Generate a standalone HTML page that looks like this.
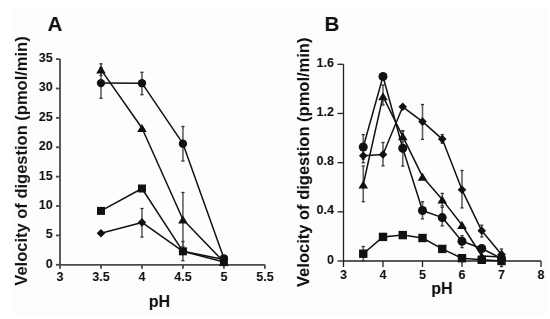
<!DOCTYPE html>
<html><head><meta charset="utf-8"><style>
html,body{margin:0;padding:0;background:#fff;width:550px;height:319px;overflow:hidden;}
body{position:relative;font-family:"Liberation Sans",sans-serif;}
</style></head><body>
<svg width="550" height="319" viewBox="0 0 550 319" style="position:absolute;left:0;top:0;filter:grayscale(1)" font-family="Liberation Sans, sans-serif" font-weight="bold" fill="#111">
<rect x="13" y="8" width="534" height="307" fill="#fdfdfc"/>
<text x="47.6" y="30.9" font-size="20.5">A</text>
<text x="324.5" y="30.9" font-size="20.5">B</text>
<text transform="translate(26.9,161.0) rotate(-90)" text-anchor="middle" font-size="16.5">Velocity of digestion (pmol/min)</text>
<text transform="translate(308.6,162.3) rotate(-90)" text-anchor="middle" font-size="16.5">Velocity of digestion (pmol/min)</text>
<text x="159.5" y="307" text-anchor="middle" font-size="16">pH</text>
<text x="442" y="294" text-anchor="middle" font-size="16">pH</text>
<line x1="60" y1="59.11" x2="60" y2="264.8" stroke="#4a4a4a" stroke-width="1.8"/>
<line x1="60" y1="264.8" x2="264.9" y2="264.8" stroke="#4a4a4a" stroke-width="1.8"/>
<line x1="56" y1="264.8" x2="60" y2="264.8" stroke="#4a4a4a" stroke-width="1.8"/>
<line x1="56" y1="235.42" x2="60" y2="235.42" stroke="#4a4a4a" stroke-width="1.8"/>
<line x1="56" y1="206.03" x2="60" y2="206.03" stroke="#4a4a4a" stroke-width="1.8"/>
<line x1="56" y1="176.65" x2="60" y2="176.65" stroke="#4a4a4a" stroke-width="1.8"/>
<line x1="56" y1="147.26" x2="60" y2="147.26" stroke="#4a4a4a" stroke-width="1.8"/>
<line x1="56" y1="117.88" x2="60" y2="117.88" stroke="#4a4a4a" stroke-width="1.8"/>
<line x1="56" y1="88.49" x2="60" y2="88.49" stroke="#4a4a4a" stroke-width="1.8"/>
<line x1="56" y1="59.11" x2="60" y2="59.11" stroke="#4a4a4a" stroke-width="1.8"/>
<line x1="60" y1="264.8" x2="60" y2="268.8" stroke="#4a4a4a" stroke-width="1.8"/>
<line x1="100.98" y1="264.8" x2="100.98" y2="268.8" stroke="#4a4a4a" stroke-width="1.8"/>
<line x1="141.96" y1="264.8" x2="141.96" y2="268.8" stroke="#4a4a4a" stroke-width="1.8"/>
<line x1="182.94" y1="264.8" x2="182.94" y2="268.8" stroke="#4a4a4a" stroke-width="1.8"/>
<line x1="223.92" y1="264.8" x2="223.92" y2="268.8" stroke="#4a4a4a" stroke-width="1.8"/>
<line x1="264.9" y1="264.8" x2="264.9" y2="268.8" stroke="#4a4a4a" stroke-width="1.8"/>
<text x="52.6" y="267.8" text-anchor="end" font-size="12.5">0</text>
<text x="52.6" y="238.42" text-anchor="end" font-size="12.5">5</text>
<text x="52.6" y="209.03" text-anchor="end" font-size="12.5">10</text>
<text x="52.6" y="179.65" text-anchor="end" font-size="12.5">15</text>
<text x="52.6" y="150.26" text-anchor="end" font-size="12.5">20</text>
<text x="52.6" y="120.88" text-anchor="end" font-size="12.5">25</text>
<text x="52.6" y="91.49" text-anchor="end" font-size="12.5">30</text>
<text x="52.6" y="62.11" text-anchor="end" font-size="12.5">35</text>
<text x="60" y="280.6" text-anchor="middle" font-size="12.5">3</text>
<text x="100.98" y="280.6" text-anchor="middle" font-size="12.5">3.5</text>
<text x="141.96" y="280.6" text-anchor="middle" font-size="12.5">4</text>
<text x="182.94" y="280.6" text-anchor="middle" font-size="12.5">4.5</text>
<text x="223.92" y="280.6" text-anchor="middle" font-size="12.5">5</text>
<text x="264.9" y="280.6" text-anchor="middle" font-size="12.5">5.5</text>
<line x1="343.5" y1="64.3" x2="343.5" y2="261" stroke="#222" stroke-width="1.3"/>
<line x1="343.5" y1="261" x2="541" y2="261" stroke="#222" stroke-width="1.3"/>
<line x1="337.5" y1="261" x2="343.5" y2="261" stroke="#222" stroke-width="1.3"/>
<line x1="337.5" y1="211.82" x2="343.5" y2="211.82" stroke="#222" stroke-width="1.3"/>
<line x1="337.5" y1="162.65" x2="343.5" y2="162.65" stroke="#222" stroke-width="1.3"/>
<line x1="337.5" y1="113.47" x2="343.5" y2="113.47" stroke="#222" stroke-width="1.3"/>
<line x1="337.5" y1="64.3" x2="343.5" y2="64.3" stroke="#222" stroke-width="1.3"/>
<line x1="343.5" y1="261" x2="343.5" y2="267" stroke="#222" stroke-width="1.3"/>
<line x1="383" y1="261" x2="383" y2="267" stroke="#222" stroke-width="1.3"/>
<line x1="422.5" y1="261" x2="422.5" y2="267" stroke="#222" stroke-width="1.3"/>
<line x1="462" y1="261" x2="462" y2="267" stroke="#222" stroke-width="1.3"/>
<line x1="501.5" y1="261" x2="501.5" y2="267" stroke="#222" stroke-width="1.3"/>
<line x1="541" y1="261" x2="541" y2="267" stroke="#222" stroke-width="1.3"/>
<text x="334" y="263.5" text-anchor="end" font-size="12.5">0</text>
<text x="334" y="214.32" text-anchor="end" font-size="12.5">0.4</text>
<text x="334" y="165.15" text-anchor="end" font-size="12.5">0.8</text>
<text x="334" y="115.97" text-anchor="end" font-size="12.5">1.2</text>
<text x="334" y="66.8" text-anchor="end" font-size="12.5">1.6</text>
<text x="343.5" y="278.8" text-anchor="middle" font-size="12.5">3</text>
<text x="383" y="278.8" text-anchor="middle" font-size="12.5">4</text>
<text x="422.5" y="278.8" text-anchor="middle" font-size="12.5">5</text>
<text x="462" y="278.8" text-anchor="middle" font-size="12.5">6</text>
<text x="501.5" y="278.8" text-anchor="middle" font-size="12.5">7</text>
<text x="541" y="278.8" text-anchor="middle" font-size="12.5">8</text>
<line x1="100.98" y1="67.9" x2="100.98" y2="98.3" stroke="#606060" stroke-width="1.6"/>
<line x1="99.38" y1="67.9" x2="102.58" y2="67.9" stroke="#333" stroke-width="1.3"/>
<line x1="99.38" y1="98.3" x2="102.58" y2="98.3" stroke="#333" stroke-width="1.3"/>
<line x1="100.98" y1="63.8" x2="100.98" y2="75.4" stroke="#606060" stroke-width="1.6"/>
<line x1="99.38" y1="63.8" x2="102.58" y2="63.8" stroke="#333" stroke-width="1.3"/>
<line x1="99.38" y1="75.4" x2="102.58" y2="75.4" stroke="#333" stroke-width="1.3"/>
<line x1="141.96" y1="72.3" x2="141.96" y2="94.7" stroke="#606060" stroke-width="1.6"/>
<line x1="140.36" y1="72.3" x2="143.56" y2="72.3" stroke="#333" stroke-width="1.3"/>
<line x1="140.36" y1="94.7" x2="143.56" y2="94.7" stroke="#333" stroke-width="1.3"/>
<line x1="182.94" y1="126.5" x2="182.94" y2="161" stroke="#606060" stroke-width="1.6"/>
<line x1="181.34" y1="126.5" x2="184.54" y2="126.5" stroke="#333" stroke-width="1.3"/>
<line x1="181.34" y1="161" x2="184.54" y2="161" stroke="#333" stroke-width="1.3"/>
<line x1="182.94" y1="192.5" x2="182.94" y2="246.5" stroke="#606060" stroke-width="1.6"/>
<line x1="181.34" y1="192.5" x2="184.54" y2="192.5" stroke="#333" stroke-width="1.3"/>
<line x1="181.34" y1="246.5" x2="184.54" y2="246.5" stroke="#333" stroke-width="1.3"/>
<line x1="182.94" y1="241.5" x2="182.94" y2="260.7" stroke="#606060" stroke-width="1.6"/>
<line x1="181.34" y1="241.5" x2="184.54" y2="241.5" stroke="#333" stroke-width="1.3"/>
<line x1="181.34" y1="260.7" x2="184.54" y2="260.7" stroke="#333" stroke-width="1.3"/>
<line x1="141.96" y1="208.5" x2="141.96" y2="237" stroke="#606060" stroke-width="1.6"/>
<line x1="140.36" y1="208.5" x2="143.56" y2="208.5" stroke="#333" stroke-width="1.3"/>
<line x1="140.36" y1="237" x2="143.56" y2="237" stroke="#333" stroke-width="1.3"/>
<polyline points="100.98,233.2 141.96,222.4 182.94,251.3 223.92,259.4" fill="none" stroke="#111" stroke-width="1.5" stroke-linejoin="round"/>
<polyline points="100.98,210.9 141.96,188.5 182.94,251.3 223.92,262.1" fill="none" stroke="#111" stroke-width="1.5" stroke-linejoin="round"/>
<polyline points="100.98,69.6 141.96,128 182.94,219.5 223.92,262" fill="none" stroke="#111" stroke-width="1.5" stroke-linejoin="round"/>
<polyline points="100.98,83.1 141.96,83.2 182.94,143.7 223.92,258.3" fill="none" stroke="#111" stroke-width="1.5" stroke-linejoin="round"/>
<polygon points="100.98,228.9 105.28,233.2 100.98,237.5 96.68,233.2" fill="#111"/>
<polygon points="141.96,218.1 146.26,222.4 141.96,226.7 137.66,222.4" fill="#111"/>
<polygon points="182.94,247 187.24,251.3 182.94,255.6 178.64,251.3" fill="#111"/>
<polygon points="223.92,255.1 228.22,259.4 223.92,263.7 219.62,259.4" fill="#111"/>
<rect x="96.98" y="206.9" width="8" height="8" fill="#111"/>
<rect x="137.96" y="184.5" width="8" height="8" fill="#111"/>
<rect x="178.94" y="247.3" width="8" height="8" fill="#111"/>
<rect x="219.92" y="258.1" width="8" height="8" fill="#111"/>
<polygon points="100.98,65.6 105.78,73.6 96.18,73.6" fill="#111"/>
<polygon points="141.96,124 146.76,132 137.16,132" fill="#111"/>
<polygon points="182.94,215.5 187.74,223.5 178.14,223.5" fill="#111"/>
<polygon points="223.92,258 228.72,266 219.12,266" fill="#111"/>
<circle cx="100.98" cy="83.1" r="4.15" fill="#111"/>
<circle cx="141.96" cy="83.2" r="4.15" fill="#111"/>
<circle cx="182.94" cy="143.7" r="4.15" fill="#111"/>
<circle cx="223.92" cy="258.3" r="4.15" fill="#111"/>
<line x1="363.25" y1="134.6" x2="363.25" y2="159.4" stroke="#606060" stroke-width="1.6"/>
<line x1="361.65" y1="134.6" x2="364.85" y2="134.6" stroke="#333" stroke-width="1.3"/>
<line x1="361.65" y1="159.4" x2="364.85" y2="159.4" stroke="#333" stroke-width="1.3"/>
<line x1="363.25" y1="149" x2="363.25" y2="162.7" stroke="#606060" stroke-width="1.6"/>
<line x1="361.65" y1="149" x2="364.85" y2="149" stroke="#333" stroke-width="1.3"/>
<line x1="361.65" y1="162.7" x2="364.85" y2="162.7" stroke="#333" stroke-width="1.3"/>
<line x1="363.25" y1="166" x2="363.25" y2="201.7" stroke="#606060" stroke-width="1.6"/>
<line x1="361.65" y1="166" x2="364.85" y2="166" stroke="#333" stroke-width="1.3"/>
<line x1="361.65" y1="201.7" x2="364.85" y2="201.7" stroke="#333" stroke-width="1.3"/>
<line x1="363.25" y1="246.5" x2="363.25" y2="260.8" stroke="#606060" stroke-width="1.6"/>
<line x1="361.65" y1="246.5" x2="364.85" y2="246.5" stroke="#333" stroke-width="1.3"/>
<line x1="361.65" y1="260.8" x2="364.85" y2="260.8" stroke="#333" stroke-width="1.3"/>
<line x1="383" y1="85" x2="383" y2="105" stroke="#606060" stroke-width="1.6"/>
<line x1="381.4" y1="85" x2="384.6" y2="85" stroke="#333" stroke-width="1.3"/>
<line x1="381.4" y1="105" x2="384.6" y2="105" stroke="#333" stroke-width="1.3"/>
<line x1="383" y1="142.5" x2="383" y2="165.8" stroke="#606060" stroke-width="1.6"/>
<line x1="381.4" y1="142.5" x2="384.6" y2="142.5" stroke="#333" stroke-width="1.3"/>
<line x1="381.4" y1="165.8" x2="384.6" y2="165.8" stroke="#333" stroke-width="1.3"/>
<line x1="402.75" y1="131" x2="402.75" y2="142" stroke="#606060" stroke-width="1.6"/>
<line x1="401.15" y1="131" x2="404.35" y2="131" stroke="#333" stroke-width="1.3"/>
<line x1="401.15" y1="142" x2="404.35" y2="142" stroke="#333" stroke-width="1.3"/>
<line x1="402.75" y1="130.6" x2="402.75" y2="166.1" stroke="#606060" stroke-width="1.6"/>
<line x1="401.15" y1="130.6" x2="404.35" y2="130.6" stroke="#333" stroke-width="1.3"/>
<line x1="401.15" y1="166.1" x2="404.35" y2="166.1" stroke="#333" stroke-width="1.3"/>
<line x1="422.5" y1="104.5" x2="422.5" y2="139.4" stroke="#606060" stroke-width="1.6"/>
<line x1="420.9" y1="104.5" x2="424.1" y2="104.5" stroke="#333" stroke-width="1.3"/>
<line x1="420.9" y1="139.4" x2="424.1" y2="139.4" stroke="#333" stroke-width="1.3"/>
<line x1="422.5" y1="201.8" x2="422.5" y2="218.9" stroke="#606060" stroke-width="1.6"/>
<line x1="420.9" y1="201.8" x2="424.1" y2="201.8" stroke="#333" stroke-width="1.3"/>
<line x1="420.9" y1="218.9" x2="424.1" y2="218.9" stroke="#333" stroke-width="1.3"/>
<line x1="442.25" y1="134.6" x2="442.25" y2="143.2" stroke="#606060" stroke-width="1.6"/>
<line x1="440.65" y1="134.6" x2="443.85" y2="134.6" stroke="#333" stroke-width="1.3"/>
<line x1="440.65" y1="143.2" x2="443.85" y2="143.2" stroke="#333" stroke-width="1.3"/>
<line x1="442.25" y1="193.4" x2="442.25" y2="205.8" stroke="#606060" stroke-width="1.6"/>
<line x1="440.65" y1="193.4" x2="443.85" y2="193.4" stroke="#333" stroke-width="1.3"/>
<line x1="440.65" y1="205.8" x2="443.85" y2="205.8" stroke="#333" stroke-width="1.3"/>
<line x1="442.25" y1="207.3" x2="442.25" y2="225.9" stroke="#606060" stroke-width="1.6"/>
<line x1="440.65" y1="207.3" x2="443.85" y2="207.3" stroke="#333" stroke-width="1.3"/>
<line x1="440.65" y1="225.9" x2="443.85" y2="225.9" stroke="#333" stroke-width="1.3"/>
<line x1="462" y1="170.5" x2="462" y2="207.9" stroke="#606060" stroke-width="1.6"/>
<line x1="460.4" y1="170.5" x2="463.6" y2="170.5" stroke="#333" stroke-width="1.3"/>
<line x1="460.4" y1="207.9" x2="463.6" y2="207.9" stroke="#333" stroke-width="1.3"/>
<line x1="462" y1="235.7" x2="462" y2="247.6" stroke="#606060" stroke-width="1.6"/>
<line x1="460.4" y1="235.7" x2="463.6" y2="235.7" stroke="#333" stroke-width="1.3"/>
<line x1="460.4" y1="247.6" x2="463.6" y2="247.6" stroke="#333" stroke-width="1.3"/>
<line x1="481.75" y1="225.2" x2="481.75" y2="237" stroke="#606060" stroke-width="1.6"/>
<line x1="480.15" y1="225.2" x2="483.35" y2="225.2" stroke="#333" stroke-width="1.3"/>
<line x1="480.15" y1="237" x2="483.35" y2="237" stroke="#333" stroke-width="1.3"/>
<line x1="501.5" y1="249" x2="501.5" y2="266.6" stroke="#606060" stroke-width="1.6"/>
<line x1="499.9" y1="249" x2="503.1" y2="249" stroke="#333" stroke-width="1.3"/>
<line x1="499.9" y1="266.6" x2="503.1" y2="266.6" stroke="#333" stroke-width="1.3"/>
<polyline points="363.25,253.7 383,236.9 402.75,235.1 422.5,238 442.25,248.9 462,258.2 481.75,259.8 501.5,261" fill="none" stroke="#111" stroke-width="1.5" stroke-linejoin="round"/>
<polyline points="363.25,155.8 383,154.5 402.75,106.8 422.5,121.6 442.25,139.1 462,189.8 481.75,230.8 501.5,254.4" fill="none" stroke="#111" stroke-width="1.5" stroke-linejoin="round"/>
<polyline points="363.25,184.5 383,96.3 402.75,136.3 422.5,176.7 442.25,199.6 462,225 481.75,256 501.5,257" fill="none" stroke="#111" stroke-width="1.5" stroke-linejoin="round"/>
<polyline points="363.25,147 383,76.5 402.75,148.3 422.5,210.5 442.25,217.6 462,241.3 481.75,248.5 501.5,258.5" fill="none" stroke="#111" stroke-width="1.5" stroke-linejoin="round"/>
<rect x="359.05" y="249.5" width="8.4" height="8.4" fill="#111"/>
<rect x="378.8" y="232.7" width="8.4" height="8.4" fill="#111"/>
<rect x="398.55" y="230.9" width="8.4" height="8.4" fill="#111"/>
<rect x="418.3" y="233.8" width="8.4" height="8.4" fill="#111"/>
<rect x="438.05" y="244.7" width="8.4" height="8.4" fill="#111"/>
<rect x="457.8" y="254" width="8.4" height="8.4" fill="#111"/>
<rect x="477.55" y="255.6" width="8.4" height="8.4" fill="#111"/>
<rect x="497.3" y="256.8" width="8.4" height="8.4" fill="#111"/>
<polygon points="363.25,151.5 367.55,155.8 363.25,160.1 358.95,155.8" fill="#111"/>
<polygon points="383,150.2 387.3,154.5 383,158.8 378.7,154.5" fill="#111"/>
<polygon points="402.75,102.5 407.05,106.8 402.75,111.1 398.45,106.8" fill="#111"/>
<polygon points="422.5,117.3 426.8,121.6 422.5,125.9 418.2,121.6" fill="#111"/>
<polygon points="442.25,134.8 446.55,139.1 442.25,143.4 437.95,139.1" fill="#111"/>
<polygon points="462,185.5 466.3,189.8 462,194.1 457.7,189.8" fill="#111"/>
<polygon points="481.75,226.5 486.05,230.8 481.75,235.1 477.45,230.8" fill="#111"/>
<polygon points="501.5,250.1 505.8,254.4 501.5,258.7 497.2,254.4" fill="#111"/>
<polygon points="363.25,180.5 368.05,188.5 358.45,188.5" fill="#111"/>
<polygon points="383,92.3 387.8,100.3 378.2,100.3" fill="#111"/>
<polygon points="402.75,132.3 407.55,140.3 397.95,140.3" fill="#111"/>
<polygon points="422.5,172.7 427.3,180.7 417.7,180.7" fill="#111"/>
<polygon points="442.25,195.6 447.05,203.6 437.45,203.6" fill="#111"/>
<polygon points="462,221 466.8,229 457.2,229" fill="#111"/>
<polygon points="481.75,252 486.55,260 476.95,260" fill="#111"/>
<polygon points="501.5,253 506.3,261 496.7,261" fill="#111"/>
<circle cx="363.25" cy="147" r="4.5" fill="#111"/>
<circle cx="383" cy="76.5" r="4.5" fill="#111"/>
<circle cx="402.75" cy="148.3" r="4.5" fill="#111"/>
<circle cx="422.5" cy="210.5" r="4.5" fill="#111"/>
<circle cx="442.25" cy="217.6" r="4.5" fill="#111"/>
<circle cx="462" cy="241.3" r="4.5" fill="#111"/>
<circle cx="481.75" cy="248.5" r="4.5" fill="#111"/>
<circle cx="501.5" cy="258.5" r="4.5" fill="#111"/>
</svg>
</body></html>
